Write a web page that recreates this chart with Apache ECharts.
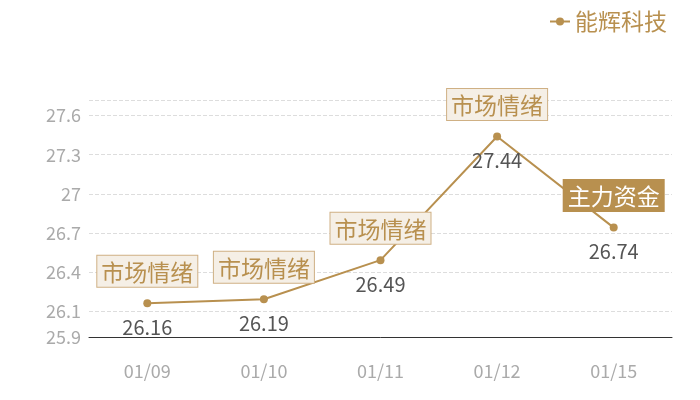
<!DOCTYPE html>
<html><head><meta charset="utf-8">
<script src="https://cdn.jsdelivr.net/npm/echarts@6/dist/echarts.min.js"></script>
<style>html,body{margin:0;padding:0;background:#fff}#c{width:700px;height:400px}</style>
</head><body><div id="c"></div>
<script>
var categories = ['01/09','01/10','01/11','01/12','01/15'];
var values = [26.16, 26.19, 26.49, 27.44, 26.74];
var tags = ['市场情绪','市场情绪','市场情绪','市场情绪','主力资金'];
var yTickLabels = [25.9, 26.1, 26.4, 26.7, 27, 27.3, 27.6];
var yGridValues = [25.9, 26.1, 26.4, 26.7, 27, 27.3, 27.6, 27.72];
var seriesName = '能辉科技';
var FONT = 'Noto Sans CJK SC';
var gold = '#b8904f';

var chart = echarts.init(document.getElementById('c'));
var markData = categories.map(function(c,i){
  var filled = tags[i] === '主力资金';
  return {
    coord:[c, values[i]], value: tags[i],
    label:{
      color: filled ? '#fff' : gold,
      backgroundColor: filled ? gold : '#f5efe6',
      borderColor: filled ? gold : '#cfb084',
      borderWidth: 1
    }
  };
});
chart.setOption({
  textStyle:{fontFamily:FONT},
  legend:{
    right:28, top:5, itemWidth:20, itemHeight:10, itemGap:6,
    textStyle:{color:gold, fontSize:23, fontFamily:FONT},
    data:[seriesName]
  },
  grid:{left:89, right:28, top:100, bottom:63},
  xAxis:{
    type:'category', data:categories, boundaryGap:true,
    axisLine:{lineStyle:{color:'#333'}},
    axisTick:{show:false},
    axisLabel:{color:'#aaa', fontSize:18, margin:25, fontFamily:FONT}
  },
  yAxis:{
    type:'value', min:25.9, max:27.72,
    axisLine:{show:false},
    axisTick:{show:false, customValues:yGridValues},
    axisLabel:{color:'#aaa', fontSize:18, margin:8, fontFamily:FONT, customValues:yTickLabels},
    splitLine:{lineStyle:{color:'#ddd', type:'dashed'}}
  },
  series:[{
    name:seriesName, type:'line', data:values,
    symbol:'circle', symbolSize:8,
    itemStyle:{color:gold},
    lineStyle:{color:gold, width:2},
    label:{show:true, position:'bottom', distance:10, color:'#555', fontSize:20, fontFamily:FONT},
    markPoint:{
      symbol:'circle', symbolSize:1,
      itemStyle:{color:'rgba(0,0,0,0)'},
      label:{show:true, position:'top', distance:16, fontSize:23, padding:[5,4,3,4], fontFamily:FONT,
        formatter:function(p){return p.value;}},
      data: markData
    }
  }]
});
</script></body></html>
